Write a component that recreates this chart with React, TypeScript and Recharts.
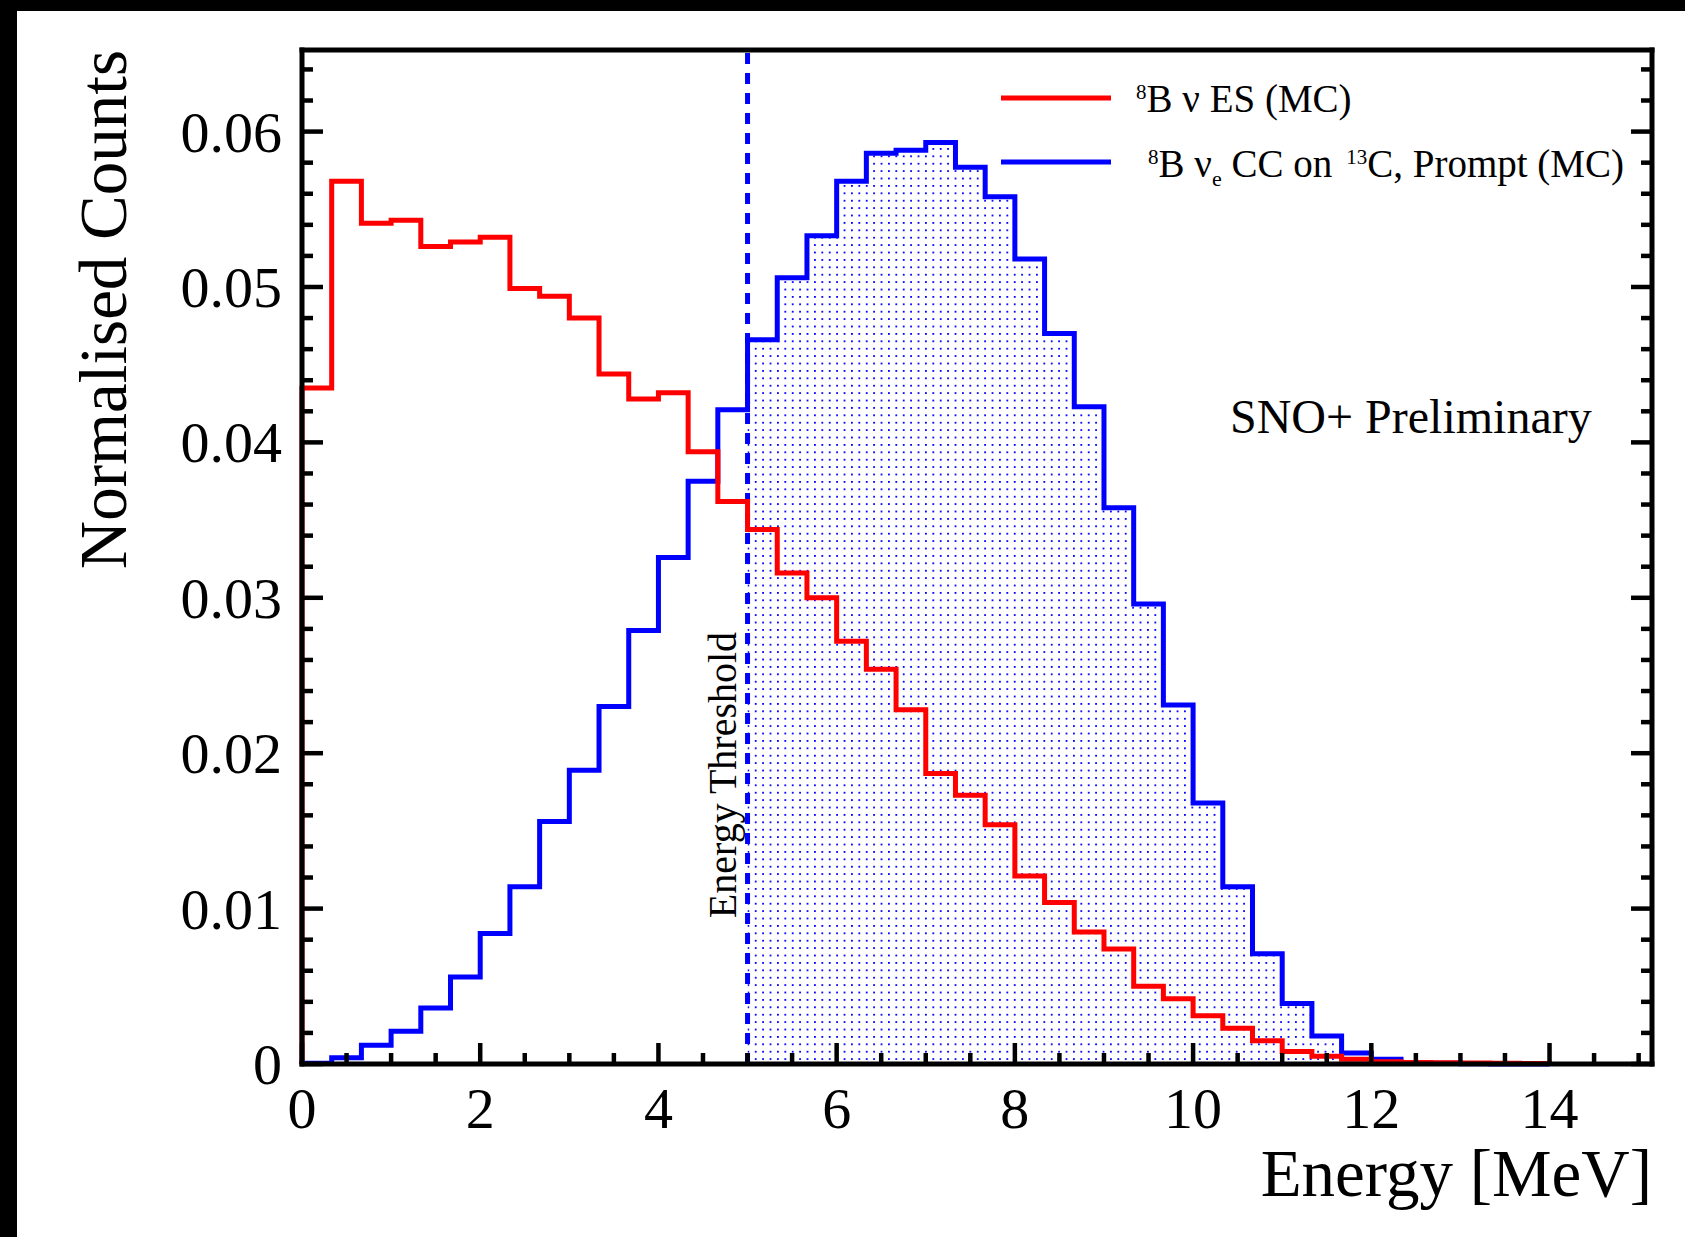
import React from "react";
import {
  ComposedChart,
  Line,
  Area,
  XAxis,
  YAxis,
  ReferenceLine,
  Legend,
} from "recharts";

// 1/3 MeV bins starting at 0 MeV
const binWidth = 1 / 3;

// 8B nu ES (MC), normalised counts per bin
const esCounts = [
  0.0435, 0.0568, 0.0541, 0.0543, 0.0526, 0.0529, 0.0532, 0.0499, 0.0494,
  0.048, 0.0444, 0.0428, 0.0432, 0.0394, 0.0362, 0.0344, 0.0316, 0.03,
  0.0272, 0.0254, 0.0228, 0.0187, 0.0173, 0.0154, 0.0121, 0.0104, 0.0085,
  0.0074, 0.005, 0.0042, 0.0031, 0.0023, 0.0015, 0.0008, 0.0005, 0.0003,
  0.00015, 0.0001, 0.00008, 0.00006, 0.00005, 0.00004,
];

// 8B nu_e CC on 13C, prompt (MC)
const ccCounts = [
  0.00005, 0.0004, 0.0012, 0.0021, 0.0036, 0.0056, 0.0084, 0.0114, 0.0156,
  0.0189, 0.023, 0.0279, 0.0326, 0.0375, 0.0421, 0.0466, 0.0506, 0.0533,
  0.0568, 0.0586, 0.0588, 0.0593, 0.0577, 0.0558, 0.0518, 0.047, 0.0423,
  0.0358, 0.0296, 0.0231, 0.0168, 0.0114, 0.0071, 0.0039, 0.0018, 0.0007,
  0.0003, 0.0001, 0.00005, 0.00002, 0, 0,
];

const thresholdMeV = 5;
const thresholdBin = 15;
const xMax = 15.15;
const yMax = 0.06525;

const xLabels = [0, 2, 4, 6, 8, 10, 12, 14];
const yLabels = [0, 0.01, 0.02, 0.03, 0.04, 0.05, 0.06];

// major + minor tick positions (minor every 0.5 MeV / 0.002)
const xTicks = Array.from({ length: 31 }, (_, i) => i * 0.5);
const yTicks = Array.from({ length: 33 }, (_, i) => +(i * 0.002).toFixed(3));

const esColor = "#ff0000";
const ccColor = "#0000ff";
const font = "'Liberation Serif', 'Times New Roman', serif";
const lineWidth = 5;

// outline of a histogram: up from zero, across every bin, back down to zero
function histOutline(counts: number[], firstBin = 0) {
  const pts = [{ x: firstBin * binWidth, y: 0 }];
  counts.forEach((c, i) => pts.push({ x: (firstBin + i) * binWidth, y: c }));
  const end = (firstBin + counts.length) * binWidth;
  pts.push({ x: end, y: counts[counts.length - 1] });
  pts.push({ x: end, y: 0 });
  return pts;
}

const esLine = histOutline(esCounts);
const ccLine = histOutline(ccCounts);
const ccAboveThreshold = histOutline(ccCounts.slice(thresholdBin), thresholdBin);

const isMajorX = (v: number) => xLabels.includes(v);
const isMajorY = (v: number) => yLabels.some((l) => Math.abs(l - v) < 1e-9);
const yText = (v: number) => (v === 0 ? "0" : v.toFixed(2));

const tickStroke = { stroke: "#000", strokeWidth: 4.5 };

function BottomTick({ x, y, payload }: any) {
  const v = payload.value;
  const major = isMajorX(v);
  return (
    <g>
      <line x1={x} x2={x} y1={y} y2={y - (major ? 21 : 11)} {...tickStroke} />
      {major && (
        <text x={x} y={y + 64} textAnchor="middle" fontSize={58} fontFamily={font} fill="#000">
          {v}
        </text>
      )}
    </g>
  );
}

function TopTick({ x, y, payload }: any) {
  const major = isMajorX(payload.value);
  return <line x1={x} x2={x} y1={y} y2={y + (major ? 21 : 11)} {...tickStroke} />;
}

function LeftTick({ x, y, payload }: any) {
  const v = payload.value;
  const major = isMajorY(v);
  return (
    <g>
      <line x1={x} x2={x + (major ? 21 : 11)} y1={y} y2={y} {...tickStroke} />
      {major && (
        <text x={x - 20} y={y + 20} textAnchor="end" fontSize={58} fontFamily={font} fill="#000">
          {yText(v)}
        </text>
      )}
    </g>
  );
}

function RightTick({ x, y, payload }: any) {
  const major = isMajorY(payload.value);
  return <line x1={x} x2={x - (major ? 21 : 11)} y1={y} y2={y} {...tickStroke} />;
}

function XTitle({ viewBox }: any) {
  return (
    <text x={viewBox.x + viewBox.width} y={viewBox.y + 132} textAnchor="end" fontSize={67} fontFamily={font} fill="#000">
      Energy [MeV]
    </text>
  );
}

function YTitle({ viewBox }: any) {
  const x = viewBox.x + viewBox.width - 176;
  const y = viewBox.y;
  return (
    <text x={x} y={y} transform={`rotate(-90, ${x}, ${y})`} textAnchor="end" fontSize={67} fontFamily={font} fill="#000">
      Normalised Counts
    </text>
  );
}

function ThresholdLabel({ viewBox }: any) {
  const x = viewBox.x - 12;
  const y = viewBox.y + viewBox.height * 0.715;
  return (
    <text x={x} y={y} transform={`rotate(-90, ${x}, ${y})`} textAnchor="middle" fontSize={40} fontFamily={font} fill="#000">
      Energy Threshold
    </text>
  );
}

function LegendBox() {
  return (
    <svg width={690} height={140} style={{ display: "block" }}>
      <line x1={11} x2={121} y1={38} y2={38} stroke={esColor} strokeWidth={lineWidth} />
      <text x={146} y={52} fontSize={39} fontFamily={font} fill="#000">
        <tspan fontSize={21} dy={-13}>8</tspan>
        <tspan dy={13}>B ν ES (MC)</tspan>
      </text>
      <line x1={11} x2={121} y1={102} y2={102} stroke={ccColor} strokeWidth={lineWidth} />
      <text x={158} y={117} fontSize={39} fontFamily={font} fill="#000">
        <tspan fontSize={21} dy={-13}>8</tspan>
        <tspan dy={13}>B ν</tspan>
        <tspan fontSize={22} dy={9}>e</tspan>
        <tspan dy={-9}> CC on</tspan>
        <tspan fontSize={21} dx={14} dy={-13}>13</tspan>
        <tspan dy={13}>C, Prompt (MC)</tspan>
      </text>
    </svg>
  );
}

export default function App() {
  const axisLine = { stroke: "#000", strokeWidth: 5, strokeLinecap: "square" as const };
  return (
    <div style={{ position: "absolute", left: 0, top: 0, width: 1685, height: 1237, background: "#000" }}>
      <div style={{ position: "absolute", left: 17, top: 11, width: 1668, height: 1226, background: "#fff" }} />
      <div style={{ position: "absolute", left: 0, top: 0 }}>
        <ComposedChart width={1685} height={1237} margin={{ top: 49, right: 32, left: 301, bottom: 172 }}>
          <defs>
            <pattern id="ccDots" width={7.4} height={7.4} patternUnits="userSpaceOnUse">
              <rect x={0} y={0} width={1.8} height={1.8} fill={ccColor} />
            </pattern>
          </defs>
          <XAxis
            dataKey="x"
            type="number"
            domain={[0, xMax]}
            ticks={xTicks}
            interval={0}
            height={1}
            tickSize={0}
            tickMargin={0}
            tickLine={false}
            axisLine={axisLine}
            tick={<BottomTick />}
            label={<XTitle />}
          />
          <XAxis
            xAxisId="top"
            orientation="top"
            type="number"
            domain={[0, xMax]}
            allowDataOverflow
            ticks={xTicks}
            interval={0}
            height={1}
            tickSize={0}
            tickMargin={0}
            tickLine={false}
            axisLine={axisLine}
            tick={<TopTick />}
          />
          <YAxis
            type="number"
            domain={[0, yMax]}
            ticks={yTicks}
            interval={0}
            width={1}
            tickSize={0}
            tickMargin={0}
            tickLine={false}
            axisLine={axisLine}
            tick={<LeftTick />}
            label={<YTitle />}
          />
          <YAxis
            yAxisId="right"
            orientation="right"
            type="number"
            domain={[0, yMax]}
            allowDataOverflow
            ticks={yTicks}
            interval={0}
            width={1}
            tickSize={0}
            tickMargin={0}
            tickLine={false}
            axisLine={axisLine}
            tick={<RightTick />}
          />
          <Area
            data={ccAboveThreshold}
            dataKey="y"
            type="stepAfter"
            stroke="none"
            fill="url(#ccDots)"
            fillOpacity={1}
            isAnimationActive={false}
            legendType="none"
          />
          <ReferenceLine
            x={thresholdMeV}
            stroke={ccColor}
            strokeWidth={5}
            strokeDasharray="11 9"
            label={<ThresholdLabel />}
          />
          <Line
            data={ccLine}
            dataKey="y"
            type="stepAfter"
            stroke={ccColor}
            strokeWidth={lineWidth}
            dot={false}
            isAnimationActive={false}
          />
          <Line
            data={esLine}
            dataKey="y"
            type="stepAfter"
            stroke={esColor}
            strokeWidth={lineWidth}
            dot={false}
            isAnimationActive={false}
          />
          <Legend
            layout="vertical"
            align="center"
            verticalAlign="middle"
            wrapperStyle={{ left: 990, top: 60, width: 690 }}
            content={<LegendBox />}
          />
        </ComposedChart>
      </div>
      <svg width={1685} height={1237} style={{ position: "absolute", left: 0, top: 0, pointerEvents: "none" }}>
        <text x={1230} y={433} fontSize={48} fontFamily={font} fill="#000">
          SNO+ Preliminary
        </text>
      </svg>
    </div>
  );
}
